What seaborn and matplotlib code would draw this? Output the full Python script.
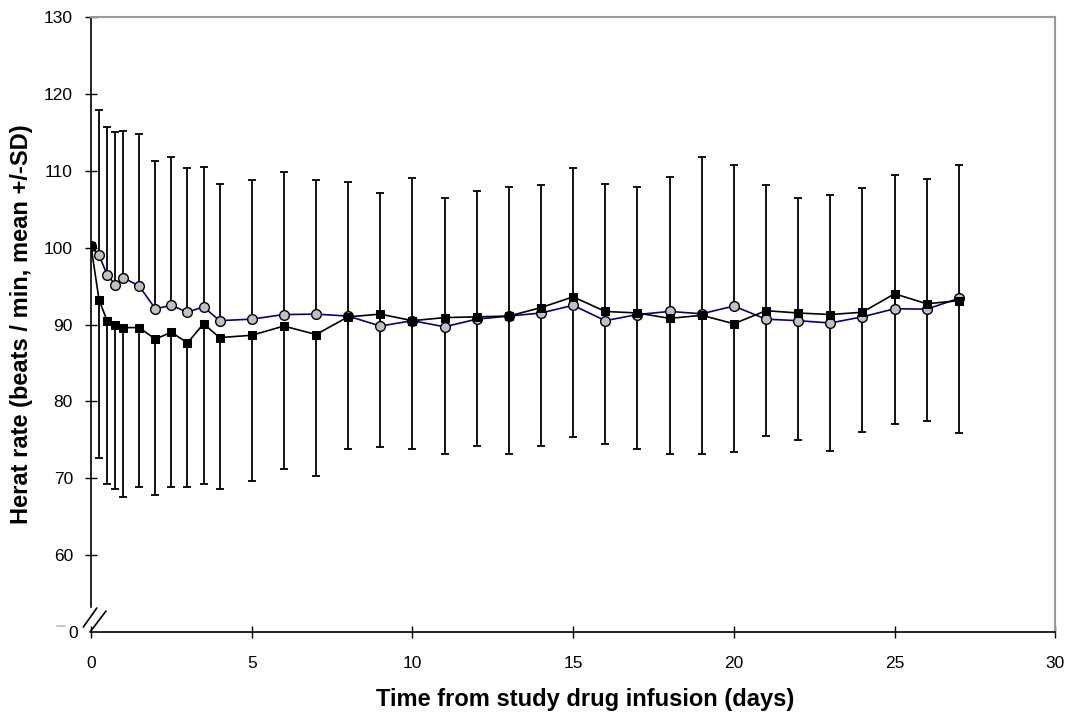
import numpy as np
import pandas as pd
import matplotlib
matplotlib.use('Agg')
import matplotlib.pyplot as plt
import matplotlib.transforms as mtransforms
import seaborn as sns

# Days after infusion
days = [0, 0.25, 0.5, 0.75, 1, 1.5, 2, 2.5, 3, 3.5, 4,
        5, 6, 7, 8, 9, 10, 11, 12, 13, 14, 15, 16, 17, 18, 19, 20,
        21, 22, 23, 24, 25, 26, 27]

# Mean heart rate, grey circles (navy line)
circle_mean = [100.2, 99.0, 96.5, 95.2, 96.1, 95.0, 92.05, 92.5, 91.6, 92.3, 90.5,
               90.7, 91.3, 91.35, 91.1, 89.8, 90.5, 89.7, 90.7, 91.1, 91.5, 92.5,
               90.5, 91.3, 91.7, 91.4, 92.4, 90.7, 90.5, 90.2, 91.0, 92.05, 92.0, 93.4]

# Mean heart rate, black squares
square_mean = [100.2, 93.2, 90.5, 90.0, 89.6, 89.6, 88.1, 89.0, 87.6, 90.1, 88.3,
               88.6, 89.8, 88.7, 91.0, 91.35, 90.5, 90.9, 91.0, 91.1, 92.2, 93.6,
               91.7, 91.5, 90.8, 91.2, 90.1, 91.8, 91.5, 91.3, 91.6, 94.0, 92.7, 93.1]

# SD (circles drawn as +SD, squares as -SD), no bar at day 0
circle_sd = [0, 18.9, 19.2, 19.8, 19.1, 19.8, 19.2, 19.3, 18.8, 18.2, 17.8,
             18.1, 18.5, 17.5, 17.4, 17.3, 18.6, 16.8, 16.7, 16.8, 16.6, 17.8,
             17.8, 16.6, 17.5, 20.4, 18.4, 17.5, 16.0, 16.7, 16.7, 17.4, 16.9, 17.4]
square_sd = [0, 20.5, 21.2, 21.4, 22.0, 20.8, 20.3, 20.1, 18.8, 20.8, 19.7,
             18.9, 18.6, 18.4, 17.2, 17.3, 16.7, 17.8, 16.8, 17.9, 18.0, 18.2,
             17.2, 17.7, 17.7, 18.1, 16.7, 16.3, 16.5, 17.8, 15.6, 16.9, 15.2, 17.2]

y_ticks = [50, 60, 70, 80, 90, 100, 110, 120, 130]
y_tick_labels = ['0', '60', '70', '80', '90', '100', '110', '120', '130']
x_ticks = [0, 5, 10, 15, 20, 25, 30]

df = pd.DataFrame({'day': days, 'circle': circle_mean, 'square': square_mean,
                   'circle_sd': circle_sd, 'square_sd': square_sd})

sns.set_style('ticks', {'text.color': 'black', 'axes.labelcolor': 'black',
                        'xtick.color': 'black', 'ytick.color': 'black'})
plt.rcParams['font.family'] = ['Liberation Sans', 'DejaVu Sans']

fig = plt.figure(figsize=(10.72, 7.13), dpi=100)
ax = fig.add_axes([0.0849, 0.1136, 0.8995, 0.8625])

bars = df.iloc[1:]
zeros = np.zeros(len(bars))
ax.errorbar(bars['day'], bars['circle'], yerr=[zeros, bars['circle_sd']], fmt='none',
            ecolor='black', elinewidth=1.3, capsize=3, capthick=1.3, zorder=2)
ax.errorbar(bars['day'], bars['square'], yerr=[bars['square_sd'], zeros], fmt='none',
            ecolor='black', elinewidth=1.3, capsize=3, capthick=1.3, zorder=2)

sns.lineplot(data=df, x='day', y='circle', ax=ax, color='#000080', linewidth=1.2,
             marker='o', markersize=7, markerfacecolor='#c0c0c0',
             markeredgecolor='black', markeredgewidth=1.0, zorder=3)
sns.lineplot(data=df, x='day', y='square', ax=ax, color='black', linewidth=1.2,
             marker='s', markersize=6.3, markerfacecolor='black',
             markeredgecolor='black', zorder=4)

ax.set_xlim(0, 30)
ax.set_ylim(50, 130)
ax.set_xticks(x_ticks)
ax.set_yticks(y_ticks)
ax.set_yticklabels(y_tick_labels)
ax.tick_params(axis='both', direction='inout', length=8, width=1, labelsize=12.5,
               colors='black')
ax.tick_params(axis='y', pad=9)
ax.tick_params(axis='x', pad=13)

# the "0" at the break: no tick on the spine, label nudged right, grey dash
first = ax.yaxis.get_major_ticks()[0]
first.tick1line.set_visible(False)
first.label1.set_transform(first.label1.get_transform() +
                           mtransforms.ScaledTranslation(5 / 100, 0, fig.dpi_scale_trans))
ax.plot([-0.0353, -0.027], [0.0098, 0.0098], transform=ax.transAxes,
        color='#bbbbbb', linewidth=1.2, clip_on=False)

ax.set_xlabel('Time from study drug infusion (days)', fontsize=17, fontweight='bold',
              color='black')
ax.xaxis.set_label_coords(0.5124, -0.091)
ax.set_ylabel('Herat rate (beats / min, mean +/-SD)', fontsize=17, fontweight='bold',
              labelpad=8, color='black')

for side in ['top', 'right']:
    ax.spines[side].set_color('#999999')
    ax.spines[side].set_linewidth(1.5)
for side in ['left', 'bottom']:
    ax.spines[side].set_color('black')
    ax.spines[side].set_linewidth(1.2)

# axis break on the y axis
ax.spines['left'].set_bounds(53.3, 130)
bk = dict(transform=ax.transAxes, color='black', linewidth=1.2, clip_on=False)
ax.plot([-0.008, 0.006], [0.008, 0.039], **bk)
ax.plot([-0.001, 0.0155], [0.0, 0.034], **bk)

fig.savefig('out.png', dpi=100)
